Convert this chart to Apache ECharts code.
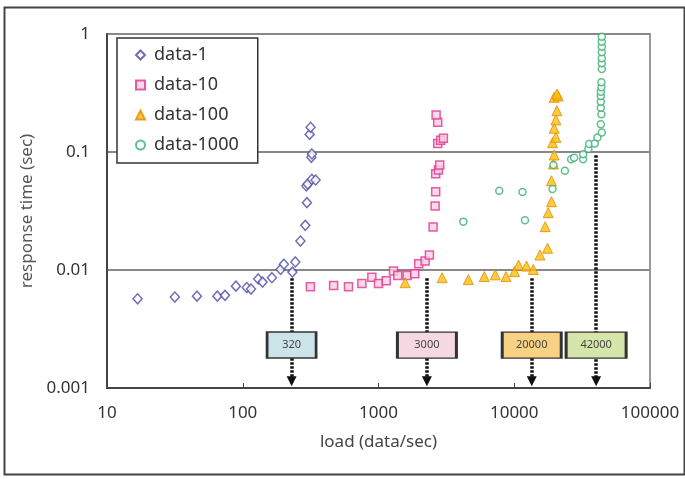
<!DOCTYPE html>
<html>
<head>
<meta charset="utf-8">
<script src="https://cdn.jsdelivr.net/npm/echarts@6/dist/echarts.min.js"></script>
<style>
  html, body { margin: 0; padding: 0; background: #fff; }
  #main { width: 685px; height: 479px; }
</style>
</head>
<body>
<div id="main"></div>
<script>
// [load (data/sec), response time (sec)]
var data1 = [[16.8,0.0057],[31.6,0.0059],[46,0.006],[65,0.006],[74,0.0061],[89,0.0073],[107,0.0071],[115,0.0069],
    [130,0.0084],[140,0.0079],[164,0.0086],[190,0.0101],[201,0.0112],[232,0.0096],[244,0.0117],[266,0.0176],
    [289,0.0239],[297,0.0372],[294,0.0515],[301,0.0535],[323,0.0587],[344,0.0579],[320,0.0902],[323,0.0962],
    [311,0.141],[316,0.162]];
var data10 = [[315,0.0072],[467,0.0074],[601,0.0072],[754,0.0077],[893,0.0087],[1000,0.0077],[1140,0.0081],
    [1289,0.0098],[1387,0.009],[1626,0.009],[1849,0.0093],[1979,0.0113],[2205,0.0119],[2371,0.0134],[2524,0.0231],
    [2612,0.0349],[2637,0.0461],[2637,0.0655],[2763,0.0704],[2825,0.0776],[2730,0.118],[2871,0.126],[3006,0.131],
    [2730,0.179],[2657,0.206]];
var data100 = [[1571,0.0078],[2940,0.0086],[4590,0.0083],[6015,0.0088],[7245,0.0091],[8690,0.0088],[10050,0.0097],
    [10760,0.011],[12310,0.0108],[13800,0.0101],[15450,0.0134],[17580,0.0153],[16900,0.0233],[17780,0.0306],
    [18800,0.0379],[18800,0.0571],[19450,0.0791],[19680,0.0944],[19140,0.12],[20270,0.133],[19680,0.159],
    [20270,0.187],[20610,0.224],[19680,0.291],[21080,0.298],[20610,0.31]];
var data1000 = [[4217,0.0257],[7758,0.047],[11510,0.0458],[11990,0.0264],[19140,0.0486],[19450,0.0776],
    [23600,0.0695],[26240,0.0867],[27620,0.0895],[32150,0.0867],[32150,0.0957],[35180,0.106],[35580,0.117],
    [39200,0.118],[41000,0.133],[44150,0.146],[43430,0.172],[43850,0.209],[43430,0.237],[43430,0.267],
    [43430,0.298],[43430,0.324],[43850,0.353],[43850,0.39],[44150,0.505],[44150,0.565],[44150,0.622],
    [44150,0.7],[44150,0.78],[44150,0.861],[44150,0.949]];

var seriesNames = ['data-1', 'data-10', 'data-100', 'data-1000'];
var xTickLabels = ['10', '100', '1000', '10000', '100000'];
var yTickLabels = ['0.001', '0.01', '0.1', '1'];

// threshold markers: label, load, where the dotted line starts
var markLabels = ['320', '3000', '20000', '42000'];
var markLoads = [229, 2273, 13450, 40100];
var markTops = [0.0085, 0.0085, 0.0085, 0.094];

var FONT = '"Noto Sans", "DejaVu Sans", sans-serif';
var boxColors = ['#cde3ea', '#f6d8e3', '#f7d283', '#d6e6aa'];
var boxWidths = [49, 59, 59, 60];

var myChart = echarts.init(document.getElementById('main'));

function marker(i) {
    return {
        markLine: {
            silent: true,
            symbol: ['none', 'triangle'],
            symbolSize: 10,
            label: {show: false},
            lineStyle: {color: '#111', width: 3.5, type: [2.5, 1.5], cap: 'butt'},
            data: [[{coord: [markLoads[i], markTops[i]]}, {coord: [markLoads[i], 0.00114]}]]
        },
        markPoint: {
            silent: true,
            z: 10,
            data: [{
                coord: [markLoads[i], 0.00231],
                symbol: 'rect',
                symbolSize: [boxWidths[i], 26],
                itemStyle: {color: boxColors[i], borderColor: '#333', borderWidth: 2},
                label: {show: true, position: 'inside', formatter: markLabels[i],
                    color: '#444', fontSize: 11, fontFamily: FONT}
            }]
        }
    };
}

var styles = [
    {symbol: 'diamond', symbolSize: [9, 10], itemStyle: {color: '#fff', borderColor: '#4a4aa4', borderWidth: 1.5}},
    {symbol: 'rect', symbolSize: 8, itemStyle: {color: '#f9d0e2', borderColor: '#e0358f', borderWidth: 1.5}},
    {symbol: 'triangle', symbolSize: 10, itemStyle: {color: '#fbbf10', borderColor: '#e68a00', borderWidth: 1}},
    {symbol: 'circle', symbolSize: 7, itemStyle: {color: '#fff', borderColor: '#3aae72', borderWidth: 1.5}}
];
var datasets = [data1, data10, data100, data1000];

var series = [];
for (var i = 0; i < 4; i++) {
    var s = {
        name: seriesNames[i],
        type: 'scatter',
        data: datasets[i],
        symbol: styles[i].symbol,
        symbolSize: styles[i].symbolSize,
        itemStyle: styles[i].itemStyle,
        emphasis: {disabled: true}
    };
    var m = marker(i);
    s.markLine = m.markLine;
    s.markPoint = m.markPoint;
    series.push(s);
}

var option = {
    animation: false,
    graphic: [{
        type: 'rect', left: 2, top: 5, silent: true,
        shape: {width: 680, height: 467},
        style: {fill: 'none', stroke: '#444', lineWidth: 2}
    }],
    grid: {
        left: 107, top: 34, width: 543, height: 354,
        show: true, borderColor: '#999', borderWidth: 2
    },
    legend: {
        data: seriesNames,
        orient: 'vertical',
        left: 117, top: 38,
        padding: [8, 19, 9, 18],
        itemGap: 12,
        itemWidth: 9, itemHeight: 9,
        backgroundColor: '#fff',
        borderColor: '#333', borderWidth: 1.5,
        textStyle: {fontSize: 18, lineHeight: 18, color: '#333', fontFamily: FONT, padding: [0, 0, 0, 4]}
    },
    xAxis: {
        type: 'log', logBase: 10, min: 10, max: 100000,
        name: 'load (data/sec)', nameLocation: 'middle', nameGap: 46,
        nameTextStyle: {fontSize: 17, color: '#444', fontFamily: FONT},
        axisLine: {lineStyle: {color: '#444', width: 2}},
        axisTick: {inside: true, length: 5, lineStyle: {color: '#444'}},
        axisLabel: {
            margin: 17, fontSize: 17, color: '#333', fontFamily: FONT,
            formatter: function (v) { return xTickLabels[Math.round(Math.log10(v)) - 1]; }
        },
        splitLine: {show: false}
    },
    yAxis: {
        type: 'log', logBase: 10, min: 0.001, max: 1,
        name: 'response time (sec)', nameLocation: 'middle', nameGap: 69,
        nameTextStyle: {fontSize: 17, color: '#555', fontFamily: FONT},
        axisLine: {lineStyle: {color: '#444', width: 2}},
        axisTick: {show: false},
        axisLabel: {
            margin: 17, fontSize: 17, color: '#333', fontFamily: FONT,
            formatter: function (v) { return yTickLabels[Math.round(Math.log10(v)) + 3]; }
        },
        splitLine: {lineStyle: {color: '#888', width: 2}}
    },
    series: series
};

myChart.setOption(option);
</script>
</body>
</html>
